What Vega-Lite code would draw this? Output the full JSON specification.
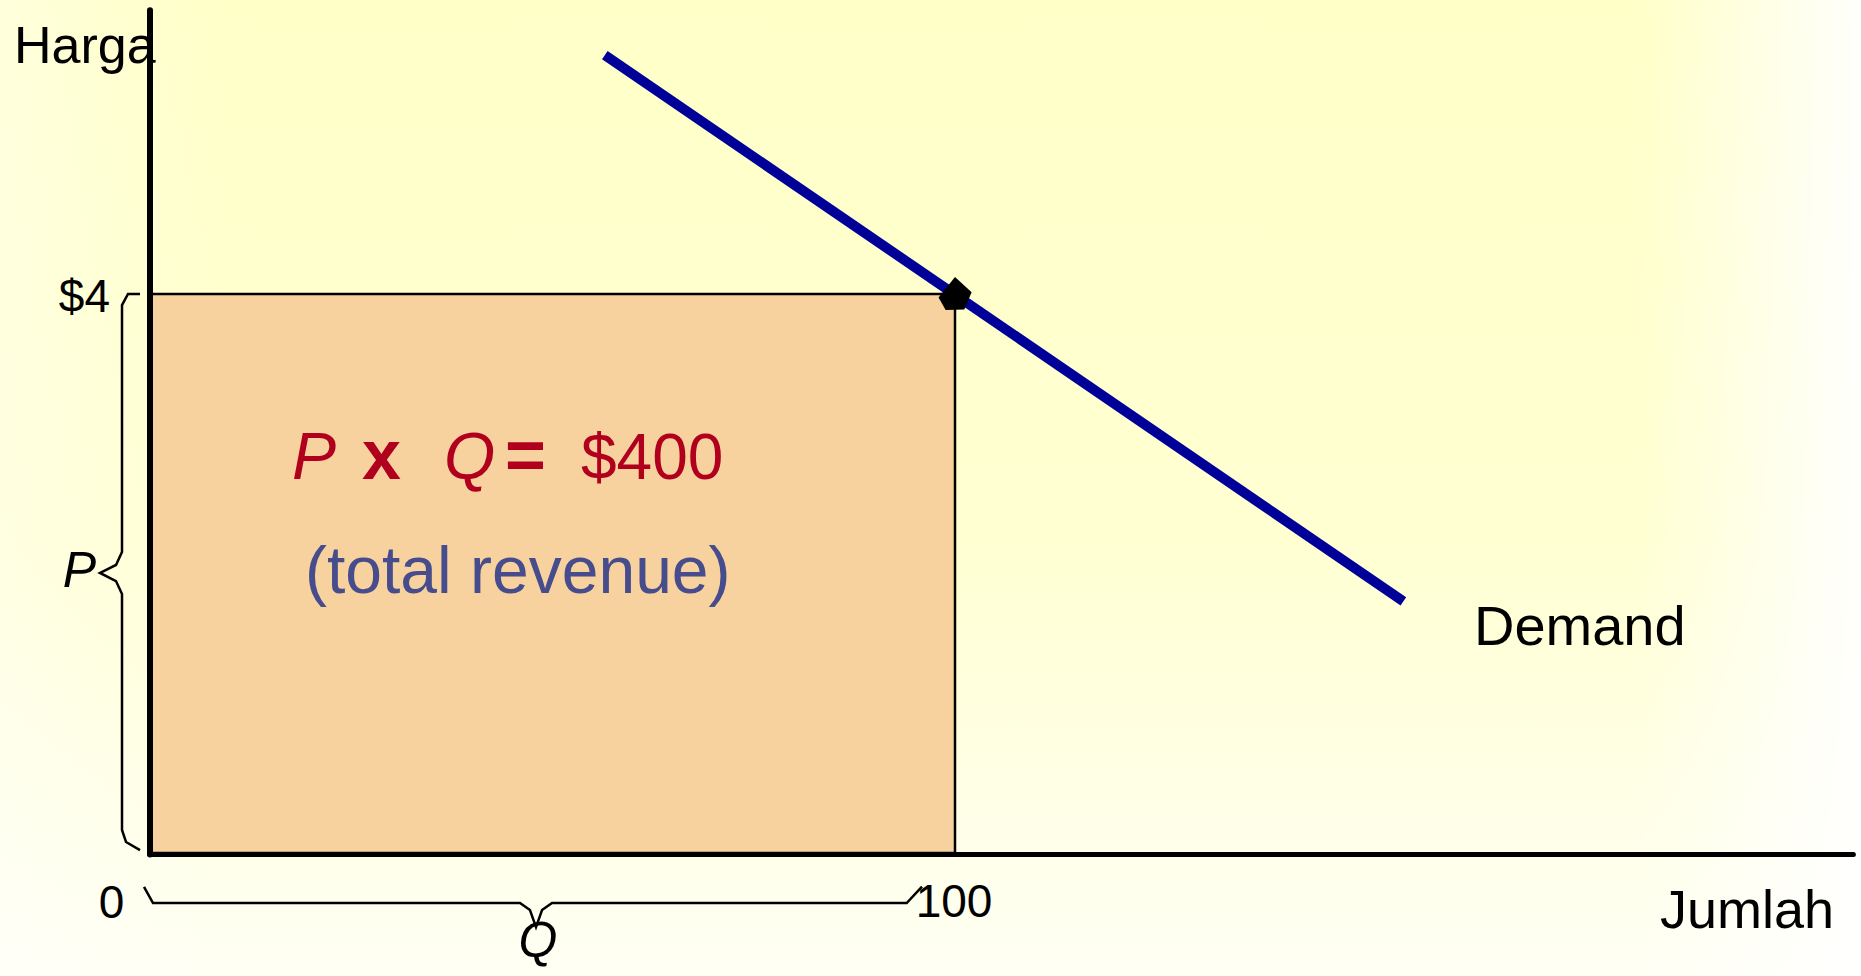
{
  "$schema": "https://vega.github.io/schema/vega-lite/v6.json",
  "width": 1861,
  "height": 976,
  "padding": 0,
  "autosize": "none",
  "background": "#FFFFE0",
  "config": {"view": {"stroke": null}, "text": {"font": "Liberation Sans"}},
  "layer": [
    {
      "data": {"values": [{"q0": -18.634, "q1": 212.547, "p0": -0.8801, "p1": 6.1038}]},
      "mark": {"type": "rect", "fill": {"gradient": "linear", "x1": 0, "y1": 0, "x2": 0, "y2": 1, "stops": [{"offset": 0, "color": "#FFFFC8"}, {"offset": 0.55, "color": "#FFFFD2"}, {"offset": 1, "color": "#FFFFF4"}]}},
      "encoding": {
        "x": {"field": "q0", "type": "quantitative", "scale": {"domain": [-18.634, 212.547], "nice": false, "zero": false}, "axis": null},
        "x2": {"field": "q1"},
        "y": {"field": "p0", "type": "quantitative", "scale": {"domain": [-0.8801, 6.1038], "nice": false, "zero": false}, "axis": null},
        "y2": {"field": "p1"}
      }
    },
    {
      "data": {"values": [{"q0": -18.634, "q1": 212.547, "p0": -0.8801, "p1": 6.1038}]},
      "mark": {"type": "rect", "fill": {"gradient": "linear", "x1": 0, "y1": 0, "x2": 1, "y2": 0, "stops": [{"offset": 0, "color": "rgba(255,255,255,0.35)"}, {"offset": 0.12, "color": "rgba(255,255,255,0)"}, {"offset": 0.88, "color": "rgba(255,255,255,0)"}, {"offset": 1, "color": "rgba(255,255,255,0.95)"}]}},
      "encoding": {
        "x": {"field": "q0", "type": "quantitative"},
        "x2": {"field": "q1"},
        "y": {"field": "p0", "type": "quantitative"},
        "y2": {"field": "p1"}
      }
    },
    {
      "data": {"values": [{"Q0": 0, "Q": 100, "P0": 0, "P": 4, "TR": 400}]},
      "mark": {"type": "rect", "fill": "#F7D29F", "stroke": "#000000", "strokeWidth": 2.5},
      "encoding": {
        "x": {"field": "Q0", "type": "quantitative"},
        "x2": {"field": "Q"},
        "y": {"field": "P0", "type": "quantitative"},
        "y2": {"field": "P"}
      }
    },
    {
      "data": {"values": [{"q": 56.5, "p": 5.71}, {"q": 155.7, "p": 1.8}]},
      "mark": {"type": "line", "stroke": "#000099", "strokeWidth": 10, "strokeCap": "butt"},
      "encoding": {"x": {"field": "q", "type": "quantitative"}, "y": {"field": "p", "type": "quantitative"}}
    },
    {
      "data": {"values": [{"q": 0, "p": -0.01}, {"q": 0, "p": 6.03}]},
      "mark": {"type": "line", "stroke": "#000000", "strokeWidth": 6, "strokeCap": "round"},
      "encoding": {"x": {"field": "q", "type": "quantitative"}, "y": {"field": "p", "type": "quantitative"}}
    },
    {
      "data": {"values": [{"q": 0, "p": -0.01}, {"q": 211.6, "p": -0.01}]},
      "mark": {"type": "line", "stroke": "#000000", "strokeWidth": 5, "strokeCap": "round"},
      "encoding": {"x": {"field": "q", "type": "quantitative"}, "y": {"field": "p", "type": "quantitative"}}
    },
    {
      "data": {"values": [
        {"brace": "P", "i": 0, "q": -1.242, "p": 4.0},
        {"brace": "P", "i": 1, "q": -2.733, "p": 4.0},
        {"brace": "P", "i": 2, "q": -3.478, "p": 3.921},
        {"brace": "P", "i": 3, "q": -3.478, "p": 2.154},
        {"brace": "P", "i": 4, "q": -4.224, "p": 2.061},
        {"brace": "P", "i": 5, "q": -6.211, "p": 2.004},
        {"brace": "P", "i": 6, "q": -4.224, "p": 1.946},
        {"brace": "P", "i": 7, "q": -3.478, "p": 1.853},
        {"brace": "P", "i": 8, "q": -3.478, "p": 0.165},
        {"brace": "P", "i": 9, "q": -2.981, "p": 0.079},
        {"brace": "P", "i": 10, "q": -1.242, "p": 0.021},
        {"brace": "Q", "i": 0, "q": -0.745, "p": -0.243},
        {"brace": "Q", "i": 1, "q": 0.373, "p": -0.358},
        {"brace": "Q", "i": 2, "q": 45.96, "p": -0.358},
        {"brace": "Q", "i": 3, "q": 47.2, "p": -0.408},
        {"brace": "Q", "i": 4, "q": 47.95, "p": -0.53},
        {"brace": "Q", "i": 5, "q": 48.7, "p": -0.408},
        {"brace": "Q", "i": 6, "q": 49.94, "p": -0.358},
        {"brace": "Q", "i": 7, "q": 94.0, "p": -0.358},
        {"brace": "Q", "i": 8, "q": 95.9, "p": -0.24}
      ]},
      "mark": {"type": "line", "stroke": "#000000", "strokeWidth": 2.5},
      "encoding": {
        "x": {"field": "q", "type": "quantitative"},
        "y": {"field": "p", "type": "quantitative"},
        "detail": {"field": "brace", "type": "nominal"},
        "order": {"field": "i", "type": "quantitative"}
      }
    },
    {
      "data": {"values": [{"q": 100, "p": 4}]},
      "mark": {"type": "point", "filled": true, "fill": "#000000", "opacity": 1, "size": 1150, "shape": "M0,-1L0.98,-0.1L0.55,0.92L-0.55,0.95L-0.97,0.2Z"},
      "encoding": {"x": {"field": "q", "type": "quantitative"}, "y": {"field": "p", "type": "quantitative"}}
    },
    {
      "data": {"values": [{"label": "Harga", "q": -16.894, "p": 5.653}]},
      "mark": {"type": "text", "fontSize": 52, "align": "left", "baseline": "alphabetic", "color": "#000000"},
      "encoding": {"x": {"field": "q", "type": "quantitative"}, "y": {"field": "p", "type": "quantitative"}, "text": {"field": "label", "type": "nominal"}}
    },
    {
      "data": {"values": [{"label": "$4", "q": -4.969, "p": 3.871}]},
      "mark": {"type": "text", "fontSize": 46, "align": "right", "baseline": "alphabetic", "color": "#000000"},
      "encoding": {"x": {"field": "q", "type": "quantitative"}, "y": {"field": "p", "type": "quantitative"}, "text": {"field": "label", "type": "nominal"}}
    },
    {
      "data": {"values": [{"label": "0", "q": -4.783, "p": -0.465}, {"label": "100", "q": 99.88, "p": -0.458}]},
      "mark": {"type": "text", "fontSize": 46, "align": "center", "baseline": "alphabetic", "color": "#000000"},
      "encoding": {"x": {"field": "q", "type": "quantitative"}, "y": {"field": "p", "type": "quantitative"}, "text": {"field": "label", "type": "nominal"}}
    },
    {
      "data": {"values": [{"label": "P", "q": -6.708, "p": 1.903}]},
      "mark": {"type": "text", "fontStyle": "italic", "fontSize": 50, "align": "right", "baseline": "alphabetic", "color": "#000000"},
      "encoding": {"x": {"field": "q", "type": "quantitative"}, "y": {"field": "p", "type": "quantitative"}, "text": {"field": "label", "type": "nominal"}}
    },
    {
      "data": {"values": [{"label": "Q", "q": 48.2, "p": -0.744}]},
      "mark": {"type": "text", "fontStyle": "italic", "fontSize": 50, "align": "center", "baseline": "alphabetic", "color": "#000000"},
      "encoding": {"x": {"field": "q", "type": "quantitative"}, "y": {"field": "p", "type": "quantitative"}, "text": {"field": "label", "type": "nominal"}}
    },
    {
      "data": {"values": [{"label": "Demand", "q": 164.47, "p": 1.488}]},
      "mark": {"type": "text", "fontSize": 56, "align": "left", "baseline": "alphabetic", "color": "#000000"},
      "encoding": {"x": {"field": "q", "type": "quantitative"}, "y": {"field": "p", "type": "quantitative"}, "text": {"field": "label", "type": "nominal"}}
    },
    {
      "data": {"values": [{"label": "Jumlah", "q": 187.58, "p": -0.537}]},
      "mark": {"type": "text", "fontSize": 54, "align": "left", "baseline": "alphabetic", "color": "#000000"},
      "encoding": {"x": {"field": "q", "type": "quantitative"}, "y": {"field": "p", "type": "quantitative"}, "text": {"field": "label", "type": "nominal"}}
    },
    {
      "data": {"values": [{"label": "P", "q": 17.64, "p": 2.676}, {"label": "Q", "q": 36.52, "p": 2.676}]},
      "mark": {"type": "text", "fontStyle": "italic", "fontSize": 66, "align": "left", "baseline": "alphabetic", "color": "#B0001E"},
      "encoding": {"x": {"field": "q", "type": "quantitative"}, "y": {"field": "p", "type": "quantitative"}, "text": {"field": "label", "type": "nominal"}}
    },
    {
      "data": {"values": [{"label": "x", "q": 26.34, "p": 2.676}, {"label": "=", "q": 44.1, "p": 2.676}]},
      "mark": {"type": "text", "fontWeight": "bold", "fontSize": 70, "align": "left", "baseline": "alphabetic", "color": "#B0001E"},
      "encoding": {"x": {"field": "q", "type": "quantitative"}, "y": {"field": "p", "type": "quantitative"}, "text": {"field": "label", "type": "nominal"}}
    },
    {
      "data": {"values": [{"label": "$400", "q": 53.54, "p": 2.676}]},
      "mark": {"type": "text", "fontSize": 64, "align": "left", "baseline": "alphabetic", "color": "#B0001E"},
      "encoding": {"x": {"field": "q", "type": "quantitative"}, "y": {"field": "p", "type": "quantitative"}, "text": {"field": "label", "type": "nominal"}}
    },
    {
      "data": {"values": [{"label": "(total revenue)", "q": 19.25, "p": 1.86}]},
      "mark": {"type": "text", "fontSize": 66, "align": "left", "baseline": "alphabetic", "color": "#464C8C"},
      "encoding": {"x": {"field": "q", "type": "quantitative"}, "y": {"field": "p", "type": "quantitative"}, "text": {"field": "label", "type": "nominal"}}
    }
  ]
}
